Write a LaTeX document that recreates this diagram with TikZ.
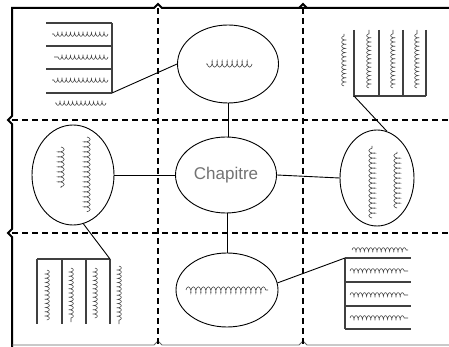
\documentclass[tikz,border=0pt]{standalone}
\usepackage{fontspec}
\setsansfont{Liberation Sans}
\usetikzlibrary{shapes.geometric,decorations.pathmorphing}
\tikzset{
  oval/.style={draw, ellipse, line width=0.9pt, inner sep=0pt},
  fold/.style={line width=2.4pt, dash pattern=on 6pt off 4pt},
  edge/.style={line width=2pt},
  conn/.style={line width=0.9pt},
  boxline/.style={line width=1.1pt, draw=black!75},
  scrib/.style={decorate, decoration={coil, aspect=0.35, segment length=4.2pt, amplitude=2.4pt}, line width=0.55pt, draw=black!75},
  scribbig/.style={decorate, decoration={coil, aspect=0.35, segment length=5pt, amplitude=3.2pt}, line width=0.6pt, draw=black!75},
  chap/.style={font=\sffamily\fontsize{17}{17}\selectfont, text=black!55}
}
\begin{document}
\begin{tikzpicture}[x=1pt,y=-1pt]
\useasboundingbox (0,0) rectangle (449,347);
% outer edges
\draw[edge] (449,8) -- (162,8) -- (158,4) -- (154,8) -- (12,8) -- (12,116) -- (8,120) -- (12,124) -- (12,229) -- (8,233) -- (12,237) -- (12,347);
\draw[edge] (162,8) -- (307,8);
\draw[edge] (299,8) -- (303,4) -- (307,8);
\draw[line width=0.8pt, draw=black!60] (12,345) -- (154,345) -- (158,341) -- (162,345) -- (299,345) -- (303,341) -- (307,345) -- (449,345);
% fold lines
\draw[fold] (158,8) -- (158,347);
\draw[fold] (303,8) -- (303,347);
\draw[fold] (12,120) -- (449,120);
\draw[fold] (12,233) -- (449,233);
% ovals
\node[oval, fill=white, minimum width=101pt, minimum height=78pt] (top) at (228,64) {};
\node[oval, fill=white, minimum width=82pt, minimum height=100pt] (left) at (73,175) {};
\node[oval, fill=white, minimum width=101pt, minimum height=76pt, chap] (center) at (226,175) {Chapitre};
\node[oval, fill=white, minimum width=74pt, minimum height=96pt] (right) at (377,178) {};
\node[oval, fill=white, minimum width=102pt, minimum height=74pt] (bottom) at (227,290) {};
% connectors between ovals
\draw[conn] (top.south) -- (top.south |- center.north);
\draw[conn] (bottom.north) -- (bottom.north |- center.south);
\draw[conn] (left.east) -- (center.west);
\draw[conn] (center.east) -- (right.west);
% handwriting in ovals
\draw[scribbig] (252,64) -- (206,64);
\draw[scribbig] (87,137) -- (87,212);
\draw[scribbig] (61,147) -- (61,188);
\draw[scribbig] (372,218) -- (372,146);
\draw[scribbig] (397,208) -- (397,152);
\draw[scribbig] (186,290) -- (268,290);
% top-left box
\coordinate (tl) at (112,93);
\draw[boxline] (46,23) -- (112,23) (46,46) -- (112,46) (46,69) -- (112,69) (46,93) -- (tl) (112,23) -- (tl);
\draw[scrib] (108,34) -- (52,34);
\draw[scrib] (108,57) -- (54,57);
\draw[scrib] (108,80) -- (52,80);
\draw[scrib] (106,103) -- (55,103);
\draw[conn] (tl) -- (top.west);
% top-right box
\coordinate (tr) at (354,96);
\draw[boxline] (354,30) -- (tr) -- (426,96) (379,30) -- (379,96) (403,30) -- (403,96) (426,30) -- (426,96);
\draw[scrib] (344,86) -- (344,34);
\draw[scrib] (369,88) -- (369,30);
\draw[scrib] (393,88) -- (393,30);
\draw[scrib] (417,88) -- (417,30);
\draw[conn] (tr) -- (right.78);
% bottom-left box
\coordinate (bl) at (110,259);
\draw[boxline] (37,259) -- (bl) (37,259) -- (37,324) (62,259) -- (62,324) (86,259) -- (86,324) (110,259) -- (110,324);
\draw[scrib] (47,270) -- (47,320);
\draw[scrib] (71,268) -- (71,322);
\draw[scrib] (95,268) -- (95,318);
\draw[scrib] (119,266) -- (119,324);
\draw[conn] (bl) -- (left.-78);
% bottom-right box
\coordinate (br) at (345,258);
\draw[boxline] (br) -- (345,329) (br) -- (411,258) (345,282) -- (411,282) (345,306) -- (411,306) (345,329) -- (411,329);
\draw[scrib] (352,250) -- (408,250);
\draw[scrib] (350,271) -- (408,271);
\draw[scrib] (350,295) -- (408,295);
\draw[scrib] (350,318) -- (408,318);
\draw[conn] (br) -- (bottom.8);
\end{tikzpicture}
\end{document}
